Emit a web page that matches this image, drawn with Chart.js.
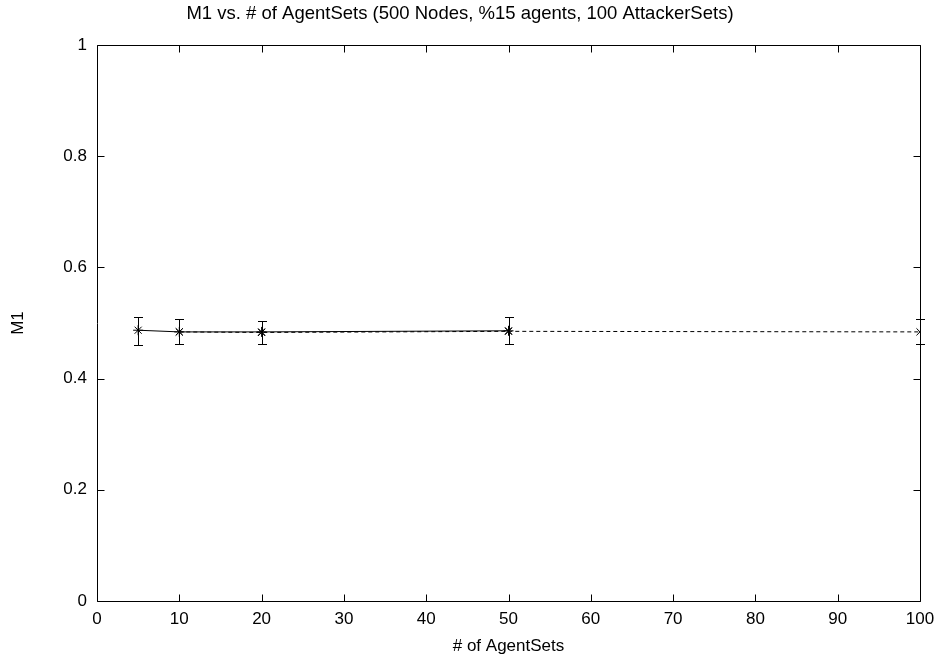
<!DOCTYPE html>
<html>
<head>
<meta charset="utf-8">
<script src="https://cdn.jsdelivr.net/npm/chart.js@4/dist/chart.umd.min.js"></script>
<style>
  html, body { margin: 0; padding: 0; background: #fff; }
  #wrap { width: 939px; height: 661px; }
</style>
</head>
<body>
<div id="wrap"><canvas id="grafico" width="939" height="661"></canvas></div>
<script>
// M1 contra número de AgentSets
const xTicks = [0, 10, 20, 30, 40, 50, 60, 70, 80, 90, 100];
const yTicks = [0, 0.2, 0.4, 0.6, 0.8, 1];

// série 1 (linha cheia)
const agentSetsA = [5, 10, 20, 50];
const m1A = [0.487, 0.484, 0.484, 0.486];
const m1A_low = [0.460, 0.462, 0.462, 0.462];
const m1A_high = [0.511, 0.507, 0.504, 0.511];

// série 2 (tracejada)
const agentSetsB = [10, 20, 50, 100];
const m1B = [0.484, 0.483, 0.485, 0.484];
const m1B_low = [0.462, 0.462, 0.462, 0.462];
const m1B_high = [0.507, 0.504, 0.511, 0.507];

const fonte = "'Liberation Sans', Arial, sans-serif";

// barras de erro desenhadas a partir de cada dataset
const barrasDeErro = {
  id: "barrasDeErro",
  afterDatasetsDraw(chart) {
    const ctx = chart.ctx;
    const xs = chart.scales.x, ys = chart.scales.y;
    ctx.save();
    ctx.strokeStyle = "#000";
    ctx.lineWidth = 1;
    chart.data.datasets.forEach(ds => {
      if (!ds.baixo) return;
      ds.data.forEach((p, i) => {
        const px = Math.round(xs.getPixelForValue(p.x)) + 0.5;
        const y1 = Math.round(ys.getPixelForValue(ds.baixo[i])) + 0.5;
        const y2 = Math.round(ys.getPixelForValue(ds.alto[i])) + 0.5;
        ctx.beginPath();
        ctx.moveTo(px, y1); ctx.lineTo(px, y2);
        ctx.moveTo(px - 4.5, y1); ctx.lineTo(px + 4.5, y1);
        ctx.moveTo(px - 4.5, y2); ctx.lineTo(px + 4.5, y2);
        ctx.stroke();
      });
    });
    ctx.restore();
  }
};

// moldura com marcas para dentro nos quatro lados
const moldura = {
  id: "moldura",
  afterDraw(chart) {
    const ctx = chart.ctx;
    const a = chart.chartArea;
    const xs = chart.scales.x, ys = chart.scales.y;
    const t = 7;
    ctx.save();
    ctx.strokeStyle = "#000";
    ctx.lineWidth = 1;
    const L = Math.round(a.left) + 0.5, R = Math.round(a.right) + 0.5;
    const T = Math.round(a.top) + 0.5, B = Math.round(a.bottom) + 0.5;
    ctx.beginPath();
    ctx.rect(L, T, R - L, B - T);
    xTicks.forEach(v => {
      const px = Math.round(xs.getPixelForValue(v)) + 0.5;
      ctx.moveTo(px, B); ctx.lineTo(px, B - t);
      ctx.moveTo(px, T); ctx.lineTo(px, T + t);
    });
    yTicks.forEach(v => {
      const py = Math.round(ys.getPixelForValue(v)) + 0.5;
      ctx.moveTo(L, py); ctx.lineTo(L + t, py);
      ctx.moveTo(R, py); ctx.lineTo(R - t, py);
    });
    ctx.stroke();
    ctx.restore();
  }
};

const ctx = document.getElementById("grafico").getContext("2d");
new Chart(ctx, {
  type: "line",
  data: {
    datasets: [
      {
        data: agentSetsA.map((x, i) => ({ x, y: m1A[i] })),
        baixo: m1A_low,
        alto: m1A_high,
        borderColor: "#000",
        borderWidth: 1,
        pointStyle: "star",
        pointRadius: 5,
        pointBorderColor: "#000",
        pointBorderWidth: 1,
        fill: false,
      },
      {
        data: agentSetsB.map((x, i) => ({ x, y: m1B[i] })),
        baixo: m1B_low,
        alto: m1B_high,
        borderColor: "#000",
        borderWidth: 1,
        borderDash: [4, 3],
        pointStyle: "crossRot",
        pointRadius: 5,
        pointBorderColor: "#000",
        pointBorderWidth: 1,
        fill: false,
      },
    ],
  },
  options: {
    responsive: false,
    animation: false,
    layout: { padding: { left: 0, right: 19, top: 0, bottom: 0 } },
    plugins: {
      legend: { display: false },
      tooltip: { enabled: false },
      title: {
        display: true,
        text: "M1 vs. # of AgentSets (500 Nodes, %15 agents, 100 AttackerSets)",
        color: "#000",
        font: { family: fonte, size: 18.5, weight: "normal" },
        padding: { top: 3, bottom: 19.8 },
      },
    },
    scales: {
      x: {
        type: "linear",
        min: 0,
        max: 100,
        afterFit: s => { s.height = 60; s.paddingLeft = 0; s.paddingRight = 0; },
        afterBuildTicks: s => { s.ticks = xTicks.map(v => ({ value: v })); },
        grid: { display: false, drawTicks: false },
        border: { display: false },
        ticks: { color: "#000", font: { family: fonte, size: 17 }, padding: 8, maxRotation: 0 },
        title: {
          display: true,
          text: "# of AgentSets",
          color: "#000",
          font: { family: fonte, size: 17 },
          padding: { top: 0, bottom: 4 },
        },
      },
      y: {
        type: "linear",
        min: 0,
        max: 1,
        afterFit: s => { s.width = 97; },
        afterBuildTicks: s => { s.ticks = yTicks.map(v => ({ value: v })); },
        grid: { display: false, drawTicks: false },
        border: { display: false },
        ticks: {
          color: "#000",
          font: { family: fonte, size: 17 },
          padding: 10,
          callback: v => String(Math.round(v * 10) / 10),
        },
        title: {
          display: true,
          text: "M1",
          color: "#000",
          font: { family: fonte, size: 17 },
          padding: { top: 8, bottom: 0 },
        },
      },
    },
  },
  plugins: [barrasDeErro, moldura],
});
</script>
</body>
</html>
